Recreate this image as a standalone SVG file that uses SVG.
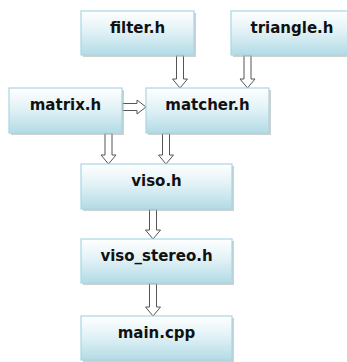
<svg xmlns="http://www.w3.org/2000/svg" width="347" height="362" viewBox="0 0 347 362">
<defs>
<linearGradient id="g" x1="0" y1="0" x2="0" y2="1">
<stop offset="0" stop-color="#ffffff"/>
<stop offset="0.45" stop-color="#e2f2f6"/>
<stop offset="1" stop-color="#b3dbe6"/>
</linearGradient>
</defs>
<style>
.sh{fill:#a9a9a9;opacity:0.55}
.bx{fill:url(#g);stroke:#a8d6e3;stroke-width:1.2}
.t{font-family:"DejaVu Sans",sans-serif;font-weight:bold;font-size:15px;fill:#111;text-anchor:middle}
.ar{fill:#fff;stroke:#555;stroke-width:1;stroke-linejoin:miter}
</style>
<rect width="347" height="362" fill="#fff"/>
<g id="connectors">
<path class="ar" d="M176.5,55 h7 v24 h4 l-7.5,9 l-7.5,-9 h4 z"/>
<path class="ar" d="M244,55 h7 v24 h4 l-7.5,9 l-7.5,-9 h4 z"/>
<path class="ar" d="M122,103.5 h15 v-3.5 l9,7 l-9,7 v-3.5 h-15 z"/>
<path class="ar" d="M105,133 h7 v22 h4 l-7.5,9 l-7.5,-9 h4 z"/>
<path class="ar" d="M162.5,133 h7 v22 h4 l-7.5,9 l-7.5,-9 h4 z"/>
<path class="ar" d="M149.5,209 h7 v21 h4 l-7.5,9 l-7.5,-9 h4 z"/>
<path class="ar" d="M149.5,283 h7 v24 h4 l-7.5,9 l-7.5,-9 h4 z"/>
</g>
<g id="filter">
<rect class="sh" x="83" y="13" width="113" height="44"/>
<rect class="bx" x="81" y="11" width="113" height="44"/>
<text class="t" x="137.5" y="32.5">filter.h</text>
</g>
<g id="triangle">
<rect class="sh" x="233" y="13" width="116" height="44"/>
<rect class="bx" x="231" y="11" width="118" height="44"/>
<text class="t" x="292" y="32.5">triangle.h</text>
</g>
<g id="matrix">
<rect class="sh" x="11" y="90" width="113" height="45"/>
<rect class="bx" x="9" y="88" width="113" height="45"/>
<text class="t" x="65.5" y="109.5">matrix.h</text>
</g>
<g id="matcher">
<rect class="sh" x="148" y="90" width="123" height="45"/>
<rect class="bx" x="146" y="88" width="123" height="45"/>
<text class="t" x="207.5" y="109.5">matcher.h</text>
</g>
<g id="viso">
<rect class="sh" x="83" y="166" width="151" height="45"/>
<rect class="bx" x="81" y="164" width="151" height="45"/>
<text class="t" x="156.5" y="185.5">viso.h</text>
</g>
<g id="viso_stereo">
<rect class="sh" x="83" y="241" width="151" height="44"/>
<rect class="bx" x="81" y="239" width="151" height="44"/>
<text class="t" x="156.5" y="260.5">viso_stereo.h</text>
</g>
<g id="main">
<rect class="sh" x="83" y="318" width="151" height="44"/>
<rect class="bx" x="81" y="316" width="151" height="44"/>
<text class="t" x="156.5" y="337.5">main.cpp</text>
</g>
</svg>
